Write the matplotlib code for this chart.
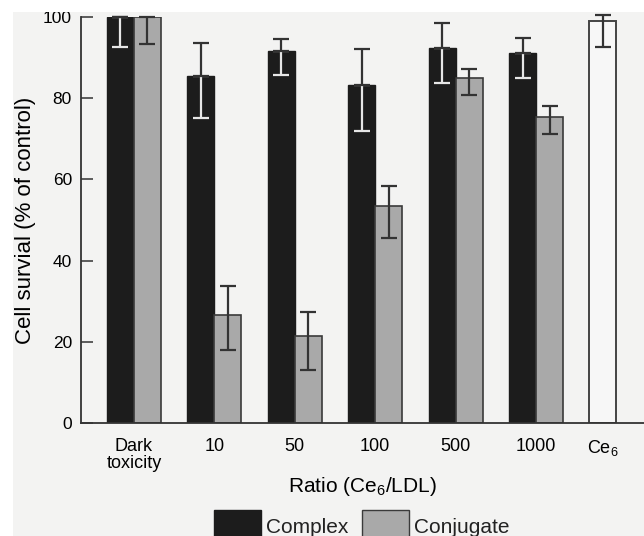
import matplotlib
matplotlib.use("Agg")
import matplotlib.pyplot as plt
from matplotlib.patches import Patch, Rectangle
import numpy as np

# survival data read per ratio group (values in % of control)
categories = ['Dark\ntoxicity', '10', '50', '100', '500', '1000']
complex_vals = [100, 85.5, 91.6, 83.2, 92.4, 91.1]
complex_err_lo = [7.4, 10.4, 5.9, 11.3, 8.7, 6.1]
complex_err_hi = [0, 8.1, 3.0, 8.9, 6.1, 3.7]
conj_vals = [100, 26.6, 21.4, 53.4, 85.0, 75.4]
conj_err_lo = [6.7, 8.7, 8.3, 7.8, 4.2, 4.2]
conj_err_hi = [0, 7.2, 6.0, 5.0, 2.2, 2.7]
ce6_label = 'Ce$_6$'
ce6_val = 99.0
ce6_err_lo = 6.4
ce6_err_hi = 1.5

plt.rcParams['font.family'] = ['Liberation Sans', 'DejaVu Sans']
plt.rcParams['font.size'] = 12.5
plt.rcParams['text.color'] = '#222222'
plt.rcParams['mathtext.fontset'] = 'custom'
plt.rcParams['mathtext.rm'] = 'Liberation Sans'

BLACK = '#1c1c1c'
GRAY = '#a9a9a9'
EDGE = '#3a3a3a'
PAPER = '#f3f3f2'

fig = plt.figure(figsize=(6.44, 5.36), dpi=100, facecolor=PAPER)
# white margin of the page at top and left
fig.patches.append(Rectangle((0, 1 - 12 / 536), 1, 12 / 536, transform=fig.transFigure,
                             facecolor='white', edgecolor='none', zorder=0))
fig.patches.append(Rectangle((0, 0), 13 / 644, 1, transform=fig.transFigure,
                             facecolor='white', edgecolor='none', zorder=0))

ax = fig.add_axes([81 / 644, 113 / 536, 563 / 644, 406 / 536])
ax.set_facecolor('none')

w = 0.336
x = np.arange(len(categories))
xc = x - w / 2
xg = x + w / 2
x_ce6 = len(categories) - w / 2

ax.bar(xc, complex_vals, w, color=BLACK, edgecolor=BLACK, linewidth=1.0, zorder=2)
ax.bar(xg, conj_vals, w, color=GRAY, edgecolor=EDGE, linewidth=1.2, zorder=2)
ax.bar([x_ce6], [ce6_val], w, color='#f7f7f7', edgecolor='#444444', linewidth=1.4, zorder=2)

zeros = [0] * len(categories)
eb_kw = dict(fmt='none', capsize=5.8, elinewidth=1.6, capthick=1.6)
# part of the complex error bar inside the black bar is light
e1 = ax.errorbar(xc, complex_vals, yerr=[complex_err_lo, zeros], ecolor='#e6e6e6', zorder=3, **eb_kw)
e2 = ax.errorbar(xc, complex_vals, yerr=[zeros, complex_err_hi], ecolor='#333333', zorder=4, **eb_kw)
e3 = ax.errorbar(xg, conj_vals, yerr=[conj_err_lo, conj_err_hi], ecolor='#333333', zorder=4, **eb_kw)
e4 = ax.errorbar([x_ce6], [ce6_val], yerr=[[ce6_err_lo], [ce6_err_hi]], ecolor='#333333', zorder=4, **eb_kw)
for cont in (e1, e2, e3, e4):
    for art in cont.get_children():
        art.set_clip_on(False)

ax.set_xlim(-0.659, 6.343)
ax.set_ylim(0, 100)
ax.set_yticks([0, 20, 40, 60, 80, 100])
ax.set_xticks(list(x) + [x_ce6])
ax.set_xticklabels(categories + [ce6_label], linespacing=1.0, fontsize=13)

ax.tick_params(axis='y', direction='in', length=8.6, width=1.1, color='#333333', pad=6.5, labelsize=12.5)
ax.tick_params(axis='x', length=0, pad=10.5)

for s in ['top', 'right']:
    ax.spines[s].set_visible(False)
for s in ['left', 'bottom']:
    ax.spines[s].set_color('#333333')
    ax.spines[s].set_linewidth(1.3)

ax.set_ylabel('Cell survial (% of control)', fontsize=16)
ax.yaxis.set_label_coords(-0.080, 0.5)
ax.set_xlabel('Ratio (Ce$_6$/LDL)', fontsize=15, va='top')
ax.xaxis.set_label_coords(0.5, -0.128)

handles = [Patch(facecolor=BLACK, edgecolor=BLACK, label='Complex'),
           Patch(facecolor=GRAY, edgecolor=EDGE, label='Conjugate')]
fig.legend(handles=handles, loc='upper center', bbox_to_anchor=(361.5 / 644, 1 - 510 / 536),
           ncol=2, frameon=False, borderpad=0, borderaxespad=0, handlelength=2.26,
           handleheight=2.0, handletextpad=0.24, columnspacing=0.67, fontsize=15)

fig.savefig('out.png', dpi=100, facecolor=PAPER)
